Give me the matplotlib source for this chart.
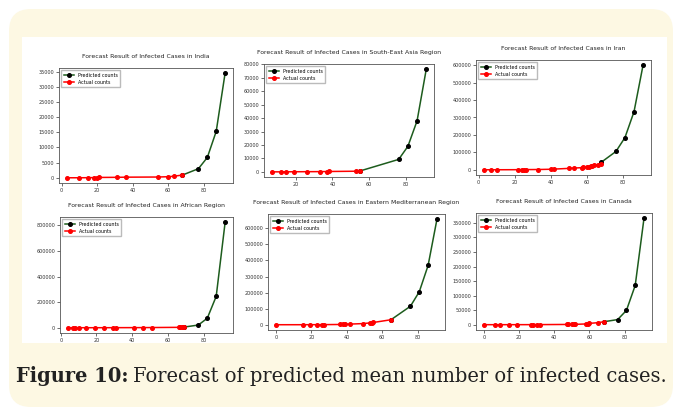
import matplotlib
matplotlib.use("Agg")
import matplotlib.pyplot as plt
from matplotlib.patches import FancyBboxPatch, Rectangle
from matplotlib.ticker import MultipleLocator

# Data (day index, cumulative infected cases)
india_actual_x = [3, 10, 15, 18, 20, 21, 31, 36, 54, 60, 63, 68]
india_actual_y = [3, 5, 30, 60, 80, 110, 150, 200, 250, 350, 500, 900]
india_pred_x = [68, 77, 82, 87, 92]
india_pred_y = [900, 3000, 6700, 15300, 34500]

sea_actual_x = [7, 12, 15, 19, 26, 33, 37, 38, 53, 55]
sea_actual_y = [20, 30, 60, 100, 150, 200, 250, 300, 500, 700]
sea_pred_x = [55, 76, 81, 86, 91]
sea_pred_y = [700, 9300, 19000, 38000, 76500]

iran_actual_x = [3, 7, 10, 22, 24, 25, 26, 33, 40, 42, 50, 53, 57, 58, 60, 61, 62, 63, 64, 66, 68]
iran_actual_y = [0, 50, 100, 500, 700, 900, 1000, 1500, 3000, 4000, 8000, 10000,
                 12000, 14000, 16000, 18000, 20000, 23000, 26000, 29000, 34000]
iran_pred_x = [68, 76, 81, 86, 91]
iran_pred_y = [44000, 105000, 185000, 333000, 600000]

afr_actual_x = [4, 7, 8, 10, 14, 19, 24, 29, 31, 41, 46, 51, 66, 67, 68, 69]
afr_actual_y = [0, 0, 10, 20, 50, 100, 200, 400, 500, 800, 1000, 1500, 3000, 3500, 4000, 5000]
afr_pred_x = [69, 77, 82, 87, 92]
afr_pred_y = [5000, 21000, 74000, 245000, 824000]

emr_actual_x = [0, 15, 19, 23, 26, 27, 36, 38, 39, 42, 49, 53, 54, 55, 65]
emr_actual_y = [0, 100, 200, 300, 500, 700, 1500, 2500, 3000, 4000, 7000, 11000, 12000, 14000, 31000]
emr_pred_x = [65, 76, 81, 86, 91]
emr_pred_y = [31000, 115000, 205000, 369000, 656000]

can_actual_x = [0, 6, 9, 14, 19, 27, 28, 30, 32, 47, 48, 50, 51, 52, 58, 59, 60, 65, 68]
can_actual_y = [0, 5, 10, 20, 50, 100, 150, 200, 250, 800, 900, 1000, 1100, 1200,
                2500, 3500, 4500, 7000, 10000]
can_pred_x = [68, 76, 81, 86, 91]
can_pred_y = [10000, 17500, 49000, 135000, 366000]

W, H = 676, 415
fig = plt.figure(figsize=(W / 100, H / 100), dpi=100)

# background: cream rounded box with white panel, in pixel units
bg = fig.add_axes([0, 0, 1, 1])
bg.set_xlim(0, W)
bg.set_ylim(H, 0)
bg.axis('off')
bg.add_patch(FancyBboxPatch((9, 9), 664, 398, boxstyle="round,pad=0,rounding_size=22",
                            facecolor='#fdf8e3', edgecolor='none'))
bg.add_patch(Rectangle((22, 37), 645, 306, facecolor='white', edgecolor='none'))


def px_axes(left, right, top, bottom):
    return fig.add_axes([left / W, (H - bottom) / H, (right - left) / W, (bottom - top) / H])


panels = [
    ((59, 233, 68, 183), 'India', india_pred_x, india_pred_y, india_actual_x, india_actual_y, 5000),
    ((264, 434, 64, 177), 'South-East Asia Region', sea_pred_x, sea_pred_y, sea_actual_x, sea_actual_y, 10000),
    ((476, 651, 60, 175), 'Iran', iran_pred_x, iran_pred_y, iran_actual_x, iran_actual_y, 100000),
    ((60, 233, 217, 333), 'African Region', afr_pred_x, afr_pred_y, afr_actual_x, afr_actual_y, 200000),
    ((268, 445, 214, 330), 'Eastern Mediterranean Region', emr_pred_x, emr_pred_y, emr_actual_x, emr_actual_y, 100000),
    ((476, 652, 213, 330), 'Canada', can_pred_x, can_pred_y, can_actual_x, can_actual_y, 50000),
]

for box, name, px, py, ax_x, ax_y, ystep in panels:
    ax = px_axes(*box)
    ax.plot(px, py, color='#1d5c1d', linewidth=1.1, marker='o', markersize=2.6,
            markerfacecolor='black', markeredgecolor='black', label='Predicted counts')
    ax.plot(ax_x, ax_y, color='red', linewidth=1.1, marker='o', markersize=2.6,
            label='Actual counts')
    ax.set_title('Forecast Result of Infected Cases in ' + name, fontsize=4.4,
                 pad=7, color='#222222')
    ax.xaxis.set_major_locator(MultipleLocator(20))
    ax.yaxis.set_major_locator(MultipleLocator(ystep))
    ax.tick_params(labelsize=3.5, length=2, width=0.5, pad=1.5, colors='#333333')
    for s in ax.spines.values():
        s.set_linewidth(0.6)
        s.set_color('#555555')
    ax.legend(loc='upper left', fontsize=3.4, handlelength=2.2, borderpad=0.5,
              labelspacing=0.5, framealpha=1, edgecolor='#bbbbbb', fancybox=False)

# caption: bold lead-in followed by regular text, sized to span x = 16..670 px
cap_y = 1 - 376 / H
fs = 14
t1 = fig.text(16 / W, cap_y, 'Figure 10:', fontsize=fs, fontweight='bold',
              family='DejaVu Serif', va='center', ha='left', color='#222222')
t2 = fig.text(0, cap_y, 'Forecast of predicted mean number of infected cases.',
              fontsize=fs, family='DejaVu Serif', va='center', ha='left', color='#222222')
fig.canvas.draw()
r = fig.canvas.get_renderer()
total = t1.get_window_extent(r).width + 4 + t2.get_window_extent(r).width
fs = fs * 654 / total
t1.set_fontsize(fs)
t2.set_fontsize(fs)
fig.canvas.draw()
ext = t1.get_window_extent(r)
t2.set_x((ext.x1 + 4 * fs / 14) / W)

fig.savefig('out.png', dpi=100)
